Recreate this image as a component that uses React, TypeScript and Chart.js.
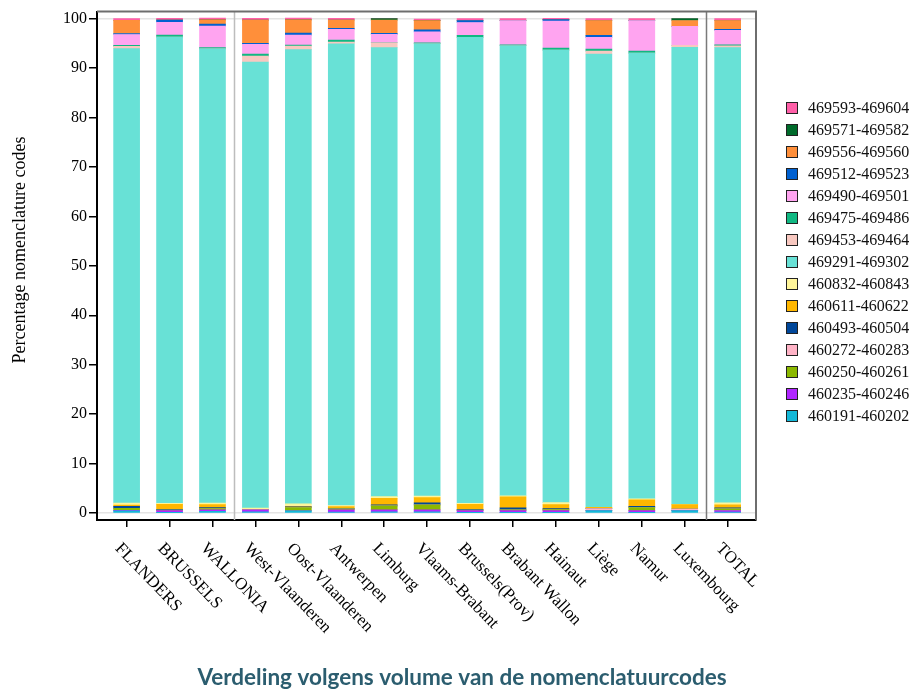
import { useEffect, useRef } from 'react';
import { Chart, registerables } from 'chart.js';
Chart.register(...registerables);

const categories = ['FLANDERS', 'BRUSSELS', 'WALLONIA', 'West-Vlaanderen', 'Oost-Vlaanderen', 'Antwerpen', 'Limburg', 'Vlaams-Brabant', 'Brussels(Prov)', 'Brabant Wallon', 'Hainaut', 'Liège', 'Namur', 'Luxembourg', 'TOTAL'];

const yTickValues = [0, 10, 20, 30, 40, 50, 60, 70, 80, 90, 100];

const s460191 = [0.45, 0.1, 0.35, 0.25, 0.45, 0.2, 0.25, 0.25, 0.1, 0.1, 0.1, 0.5, 0.1, 0.5, 0.2];
const s460235 = [0.1, 0.4, 0.3, 0.4, 0, 0.45, 0.4, 0.4, 0.4, 0.4, 0.4, 0, 0.4, 0, 0.33];
const s460250 = [0.4, 0.1, 0.25, 0, 0.65, 0.2, 0.8, 1.0, 0.1, 0.15, 0.2, 0, 0.6, 0, 0.33];
const s460272 = [0, 0, 0, 0.1, 0, 0, 0, 0, 0, 0, 0, 0.4, 0, 0.33, 0];
const s460493 = [0.4, 0.15, 0.2, 0, 0.15, 0.13, 0.2, 0.4, 0.15, 0.4, 0.2, 0, 0.27, 0, 0.2];
const s460611 = [0.25, 1.0, 0.6, 0, 0.1, 0.35, 1.34, 1.07, 1.0, 2.25, 0.8, 0.25, 1.33, 0.87, 0.6];
const s460832 = [0.4, 0.2, 0.3, 0.25, 0.5, 0.2, 0.33, 0.33, 0.2, 0.2, 0.4, 0, 0.2, 0, 0.4];
const s469291 = [91.9, 94.3, 91.85, 90.2, 91.85, 93.37, 90.78, 91.45, 94.25, 91.0, 91.5, 91.65, 90.1, 92.5, 92.04];
const s469453 = [0.46, 0, 0, 1.2, 0.74, 0.33, 1.0, 0, 0, 0, 0, 0.6, 0, 0.4, 0.4];
const s469475 = [0.2, 0.4, 0.27, 0.4, 0.2, 0.4, 0, 0.2, 0.4, 0.2, 0.4, 0.4, 0.4, 0, 0.2];
const s469490 = [2.21, 2.6, 4.35, 2.0, 2.0, 2.2, 1.7, 2.2, 2.6, 4.9, 5.5, 2.4, 6.2, 3.8, 2.9];
const s469512 = [0.2, 0.46, 0.4, 0.2, 0.4, 0.2, 0.2, 0.4, 0.4, 0, 0.27, 0.4, 0, 0, 0.2];
const s469556 = [2.69, 0, 0.87, 4.69, 2.69, 1.67, 2.69, 1.87, 0, 0, 0, 3.0, 0, 1.2, 1.8];
const s469571 = [0, 0, 0, 0, 0, 0, 0.3, 0, 0, 0, 0, 0, 0, 0.4, 0];
const s469593 = [0.34, 0.34, 0.34, 0.34, 0.34, 0.34, 0.05, 0.34, 0.4, 0.4, 0.27, 0.4, 0.4, 0, 0.4];

const seriesLabels = ['460191-460202', '460235-460246', '460250-460261', '460272-460283', '460493-460504', '460611-460622', '460832-460843', '469291-469302', '469453-469464', '469475-469486', '469490-469501', '469512-469523', '469556-469560', '469571-469582', '469593-469604'];
const seriesValues = [s460191, s460235, s460250, s460272, s460493, s460611, s460832, s469291, s469453, s469475, s469490, s469512, s469556, s469571, s469593];
const seriesColors = ['#14B8D8', '#B026FF', '#8BB800', '#FFB3C6', '#00479A', '#FFB700', '#FFF59A', '#68E1D6', '#F8C8C0', '#10B882', '#FFA4F0', '#0060D0', '#FF8F3A', '#006B2B', '#FF5FA8'];

const SERIF = '"Liberation Serif", "DejaVu Serif", serif';

const decorPlugin = {
  id: 'decor',
  beforeDatasetsDraw(chart: any) {
    const { ctx, chartArea, scales } = chart;
    const x = scales.x;
    ctx.save();
    const seps = [
      { v: 2.5, c: '#bdbdbd' },
      { v: 13.5, c: '#7a7a7a' },
    ];
    seps.forEach((s) => {
      const px = Math.round(x.getPixelForValue(s.v)) + 0.5;
      ctx.strokeStyle = s.c;
      ctx.lineWidth = 1.5;
      ctx.beginPath();
      ctx.moveTo(px, chartArea.top);
      ctx.lineTo(px, chartArea.bottom);
      ctx.stroke();
    });
    ctx.restore();
  },
  afterDraw(chart: any) {
    const { ctx, chartArea, scales } = chart;
    const x = scales.x;
    ctx.save();
    ctx.strokeStyle = '#6e6e6e';
    ctx.lineWidth = 2;
    ctx.beginPath();
    ctx.moveTo(chartArea.left, chartArea.top);
    ctx.lineTo(chartArea.right, chartArea.top);
    ctx.lineTo(chartArea.right, chartArea.bottom);
    ctx.stroke();

    ctx.fillStyle = '#000';
    ctx.font = `18px ${SERIF}`;
    ctx.textAlign = 'center';
    ctx.textBaseline = 'middle';
    ctx.save();
    ctx.translate(20, 250);
    ctx.rotate(-Math.PI / 2);
    ctx.fillText('Percentage nomenclature codes', 0, 0);
    ctx.restore();

    ctx.font = `17px ${SERIF}`;
    ctx.textAlign = 'left';
    ctx.textBaseline = 'middle';
    const ang = (46 * Math.PI) / 180;
    categories.forEach((c, i) => {
      const px = x.getPixelForValue(i);
      ctx.save();
      ctx.translate(px - 9, chartArea.bottom + 26);
      ctx.rotate(ang);
      ctx.fillText(c, 0, 0);
      ctx.restore();
    });

    ctx.font = `16px ${SERIF}`;
    ctx.textAlign = 'left';
    ctx.textBaseline = 'middle';
    for (let k = 0; k < seriesLabels.length; k++) {
      const idx = seriesLabels.length - 1 - k;
      const cy = 108 + k * 22;
      ctx.fillStyle = seriesColors[idx];
      ctx.fillRect(786.5, cy - 5.5, 11, 11);
      ctx.strokeStyle = '#222';
      ctx.lineWidth = 1;
      ctx.strokeRect(786.5, cy - 5.5, 11, 11);
      ctx.fillStyle = '#111';
      ctx.fillText(seriesLabels[idx], 808, cy + 1);
    }

    ctx.font = 'bold 22.5px Lato, "Open Sans", sans-serif';
    ctx.fillStyle = '#2b5d6f';
    ctx.textAlign = 'center';
    ctx.textBaseline = 'middle';
    ctx.fillText('Verdeling volgens volume van de nomenclatuurcodes', 462, 678);
    ctx.restore();
  },
};

export default function App() {
  const ref = useRef<HTMLCanvasElement | null>(null);
  useEffect(() => {
    if (!ref.current) return;
    const datasets = seriesLabels.map((label, si) => ({
      label,
      data: seriesValues[si].map((v, i) => ({ x: i, y: v })),
      backgroundColor: seriesColors[si],
      borderWidth: 0,
      barThickness: 26,
      stack: 'all',
    }));
    const chart = new Chart(ref.current, {
      type: 'bar',
      data: { datasets },
      plugins: [decorPlugin],
      options: {
        animation: false,
        responsive: false,
        layout: { padding: { top: 8, right: 159, left: 0, bottom: 0 } },
        plugins: { legend: { display: false }, tooltip: { enabled: false }, title: { display: false } },
        scales: {
          x: {
            type: 'linear',
            stacked: true,
            offset: false,
            min: -0.69,
            max: 14.66,
            afterBuildTicks: (s: any) => {
              s.ticks = categories.map((_, i) => ({ value: i }));
            },
            afterFit: (s: any) => {
              s.height = 173;
            },
            ticks: { display: false },
            grid: { offset: false, drawOnChartArea: false, drawTicks: true, tickLength: 7, tickColor: '#000', lineWidth: 1.5 },
            border: { display: true, color: '#000', width: 2 },
          },
          y: {
            type: 'linear',
            stacked: true,
            min: -1.4,
            max: 101.4,
            afterBuildTicks: (s: any) => {
              s.ticks = yTickValues.map((v) => ({ value: v }));
            },
            afterFit: (s: any) => {
              s.width = 97;
            },
            ticks: { color: '#000', font: { family: SERIF, size: 16 }, padding: 2 },
            grid: {
              color: (c: any) => (c.tick && (c.tick.value === 0 || c.tick.value === 100) ? '#e4e4e4' : 'rgba(0,0,0,0)'),
              tickColor: '#000',
              tickLength: 8,
              lineWidth: 1.5,
            },
            border: { display: true, color: '#000', width: 2 },
          },
        },
      },
    });
    return () => chart.destroy();
  }, []);
  return (
    <div style={{ position: 'fixed', left: 0, top: 0, width: 915, height: 693, background: '#fff' }}>
      <canvas ref={ref} width={915} height={693} style={{ width: 915, height: 693, display: 'block' }} />
    </div>
  );
}
